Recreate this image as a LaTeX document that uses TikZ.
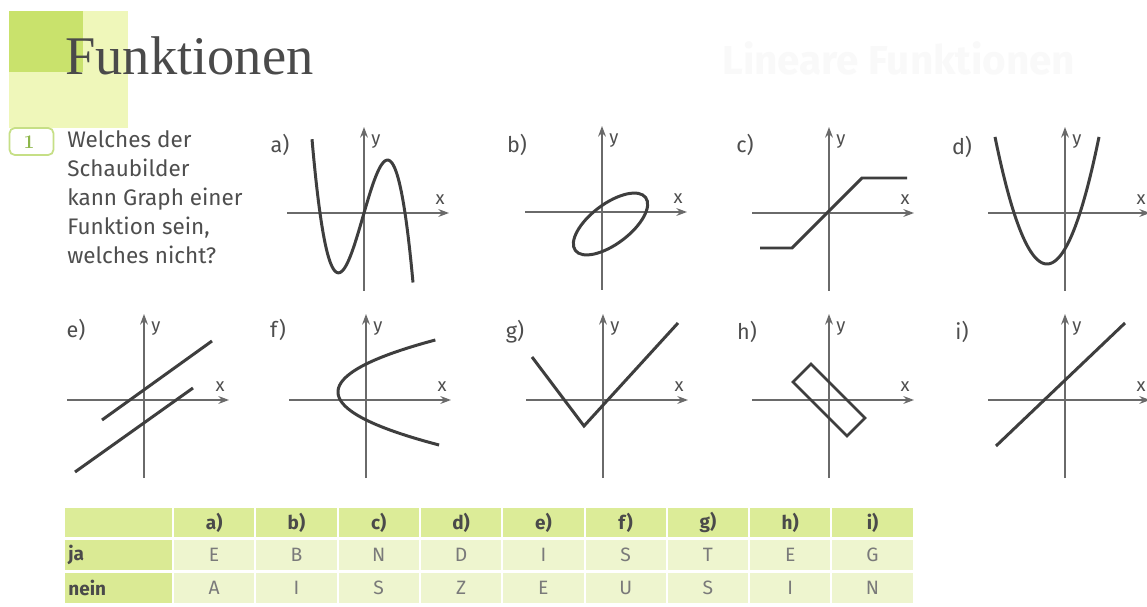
\documentclass[tikz,border=0pt]{standalone}
\usepackage{fontspec}
\newfontfamily\sans{Fira Sans}
\newfontfamily\titlefont{Liberation Serif}
\usetikzlibrary{arrows.meta}
\definecolor{titlegray}{HTML}{4A4A4A}
\definecolor{txtgray}{HTML}{4E4E4E}
\definecolor{axgray}{HTML}{6A6A6A}
\definecolor{curvegray}{HTML}{3E3E3E}
\definecolor{bgdark}{HTML}{C9E26C}
\definecolor{bglight}{HTML}{EFF7BA}
\definecolor{boxgreen}{HTML}{C6DF86}
\definecolor{numgreen}{HTML}{8DB64A}
\definecolor{hdrgreen}{HTML}{DCEC98}
\definecolor{colgreen}{HTML}{DAEA94}
\definecolor{cellgreen}{HTML}{EEF5CF}
\definecolor{datagray}{HTML}{7A7A7A}
\tikzset{
  axis/.style={draw=axgray, line width=1.1pt, -{Stealth[length=6pt,width=4.4pt]}},
  curve/.style={draw=curvegray, line width=1.7pt},
  lbl/.style={font=\sans\fontsize{12.3}{14}\selectfont, text=txtgray, inner sep=0pt},
  xylbl/.style={font=\sans\fontsize{10.5}{12}\selectfont, text=txtgray, inner sep=0pt},
  qtext/.style={font=\sans\fontsize{12.8}{15}\selectfont, text=txtgray, inner sep=0pt, anchor=base west},
  hdr/.style={font=\sans\bfseries\fontsize{10.8}{12}\selectfont, text=titlegray, inner sep=0pt},
  cell/.style={font=\sans\fontsize{11}{12}\selectfont, text=datagray, inner sep=0pt},
}
\newcommand{\achsen}[3]{%
  \draw[axis] (#1-77,#2) -- (#1+85,#2);
  \draw[axis] (#1,#2-78) -- (#1,#2+86);
  \node[xylbl] (#3x) at (#1+76,#2+13.5) {x};
  \node[xylbl] (#3y) at (#1+12,#2+71) {y};
}
\begin{document}
\begin{tikzpicture}[x=0.02cm,y=0.02cm]
\useasboundingbox (0,0) rectangle (1147,606);
\fill[white] (0,0) rectangle (1147,606);
% header background
\fill[bglight] (9,478) rectangle (128,595);
\fill[bgdark] (9,534) rectangle (83,595);
% faint show-through
\node[anchor=base west, text=black!2.5, font=\sans\bfseries\fontsize{23}{26}\selectfont, inner sep=0pt] (bleed) at (722,531) {Lineare Funktionen};
% title
\node[anchor=base west, text=titlegray, font=\titlefont\fontsize{31}{34}\selectfont, inner sep=0pt] (title) at (65,531) {Funktionen};
% exercise number
\node[draw=boxgreen, line width=1pt, rounded corners=3pt, fill=white, minimum width=0.88cm, minimum height=0.54cm, inner sep=0pt] (nrbox) at (31.5,464.5) {};
\node[text=numgreen, font=\bfseries\fontsize{11}{12}\selectfont, inner sep=0pt] (nr) at (29,464) {1};
% question
\node[qtext] (q1) at (67,458) {Welches der};
\node[qtext] (q2) at (67,429) {Schaubilder};
\node[qtext] (q3) at (67,400) {kann Graph einer};
\node[qtext] (q4) at (67,371) {Funktion sein,};
\node[qtext] (q5) at (67,342) {welches nicht?};
% graph labels
\node[lbl] (la) at (280,461) {a)};
\node[lbl] (lb) at (517,461) {b)};
\node[lbl] (lc) at (745,461) {c)};
\node[lbl] (ld) at (962,459) {d)};
\node[lbl] (le) at (76,276) {e)};
\node[lbl] (lf) at (278,276) {f)};
\node[lbl] (lg) at (515,274) {g)};
\node[lbl] (lh) at (747,274) {h)};
\node[lbl] (li) at (962,274) {i)};
% axes
\achsen{364}{393}{ga}
\achsen{602}{394}{gb}
\achsen{829}{393}{gc}
\achsen{1065}{393}{gd}
\achsen{144}{206}{ge}
\achsen{366}{206}{gf}
\achsen{603}{206}{gg}
\achsen{829}{206}{gh}
\achsen{1065}{206}{gi}
% a) cubic
\begin{scope}[shift={(364,393)}]
  \draw[curve] plot[domain=-52:49, samples=90, smooth] (\x, {(-0.0019*\x)*(\x+44)*(\x-41)});
\end{scope}
% b) ellipse
\begin{scope}[shift={(602,394)}]
  \draw[curve, rotate around={37:(8.5,-12)}] (8.5,-12) ellipse [x radius=44, y radius=20];
\end{scope}
% c) clipped line
\begin{scope}[shift={(829,393)}]
  \draw[curve] (-69,-35) -- (-37,-35) -- (33,35) -- (78,35);
\end{scope}
% d) parabola
\begin{scope}[shift={(1065,393)}]
  \draw[curve] plot[domain=-70:34, samples=80, smooth] (\x, {0.047*(\x+18)*(\x+18)-51});
\end{scope}
% e) two parallel lines
\begin{scope}[shift={(144,206)}]
  \draw[curve] (-42,-20) -- (68,59);
  \draw[curve] (-69,-72) -- (49,12);
\end{scope}
% f) parabola opening right
\begin{scope}[shift={(366,206)}]
  \draw[curve] plot[domain=-45:60, samples=80, smooth] ({0.036*(\x-8)*(\x-8)-28}, \x);
\end{scope}
% g) V shape
\begin{scope}[shift={(603,206)}]
  \draw[curve] (-71,43) -- (-19,-26) -- (75,77);
\end{scope}
% h) rectangle
\begin{scope}[shift={(829,206)}]
  \draw[curve, line width=1.5pt] (-36,18) -- (-18,36) -- (36,-18) -- (18,-36) -- cycle;
\end{scope}
% i) line
\begin{scope}[shift={(1065,206)}]
  \draw[curve] (-69,-46) -- (60,77);
\end{scope}
% table
\fill[hdrgreen] (65,69) rectangle (172,98);
\fill[colgreen] (65,36) rectangle (172,66);
\fill[colgreen] (65,3) rectangle (172,33);
\node[hdr, anchor=west] (tja) at (68,51) {ja};
\node[hdr, anchor=west] (tnein) at (68,18) {nein};
\foreach \h/\j/\n [count=\k from 0] in {a)/E/A, b)/B/I, c)/N/S, d)/D/Z, e)/I/E, f)/S/U, g)/T/S, h)/E/I, i)/G/N} {
  \pgfmathsetmacro\cl{174+82.3*\k}
  \fill[hdrgreen] (\cl,69) rectangle (\cl+80.3,98);
  \fill[cellgreen] (\cl,36) rectangle (\cl+80.3,66);
  \fill[cellgreen] (\cl,3) rectangle (\cl+80.3,33);
  \node[hdr] (th\k) at (\cl+40.15,83.5) {\h};
  \node[cell] (tj\k) at (\cl+40.15,51) {\j};
  \node[cell] (tn\k) at (\cl+40.15,18) {\n};
}
\end{tikzpicture}
\end{document}
